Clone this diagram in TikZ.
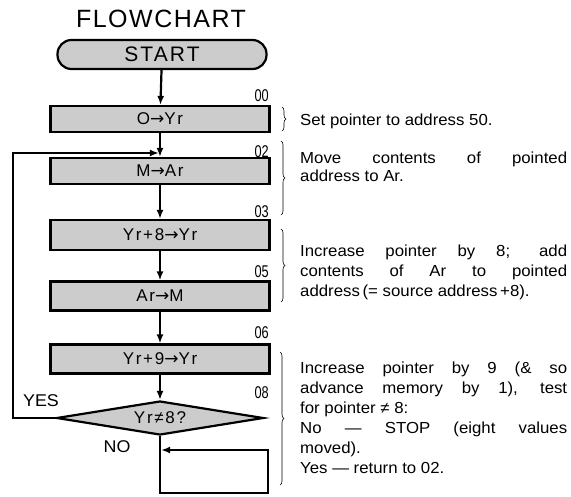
\documentclass[tikz,border=0pt]{standalone}
\usepackage{fontspec}
\setmainfont{Liberation Sans}[FakeStretch=1.05]
\newfontfamily\titlefont{Liberation Sans}[LetterSpace=6]
\newfontfamily\stepfont{Liberation Sans}[LetterSpace=10]
\newfontfamily\addrfont{Liberation Sans}[FakeStretch=0.75]
\newfontfamily\arrowfont{DejaVu Sans}
\newcommand{\goesto}{{\arrowfont →}}
\usepackage{tikz}
\usetikzlibrary{arrows.meta,shapes.geometric,decorations.pathreplacing}

\begin{document}
\begin{tikzpicture}[
x=1pt, y=-1pt,
stepbox/.style={draw, line width=2.2pt, fill=black!20, minimum width=219pt, minimum height=26pt, inner sep=0pt, font=\stepfont\fontsize{17}{19}\selectfont},
arrow/.style={-{Latex[length=9pt,width=7pt]}, line width=2.2pt},
addr/.style={anchor=east, inner sep=0pt, font=\addrfont\fontsize{17}{17}\selectfont},
sidebrace/.style={decorate, decoration={brace, amplitude=4pt}, line width=0.6pt},
desc/.style={anchor=north west, inner sep=0pt, text width=267pt, align=justify, font=\fontsize{16}{20}\selectfont},
tag/.style={inner sep=0pt, font=\fontsize{17}{17}\selectfont}
]
\useasboundingbox (0,0) rectangle (571,496);

% flowchart
\node[font=\titlefont\fontsize{25}{25}\selectfont] (title) at (161,19) {FLOWCHART};
\node[stepbox, rounded corners=14pt, minimum width=209pt, minimum height=29pt, font=\stepfont\fontsize{21}{21}\selectfont] (start) at (162,54.5) {START};
\node[stepbox] (b1) at (160,119) {O\goesto Yr};
\node[stepbox] (b2) at (160,171) {M\goesto Ar};
\node[stepbox, minimum height=30pt] (b3) at (160,235) {Yr+8\goesto Yr};
\node[stepbox, minimum height=29pt] (b4) at (160,296) {Ar\goesto M};
\node[stepbox, minimum height=29pt] (b5) at (160,359) {Yr+9\goesto Yr};
\node[stepbox, diamond, aspect=6, minimum width=207pt, minimum height=34pt] (test) at (160,418) {Yr≠8?};

% addresses
\node[addr] (a00) at (269,96) {00};
\node[addr] (a02) at (269,152) {02};
\node[addr] (a03) at (269,212) {03};
\node[addr] (a05) at (269,272) {05};
\node[addr] (a06) at (269,333) {06};
\node[addr] (a08) at (269,393) {08};

\draw[arrow] (start) -- (b1);
\draw[arrow] (b1) -- (b2);
\draw[arrow] (b2) -- (b3);
\draw[arrow] (b3) -- (b4);
\draw[arrow] (b4) -- (b5);
\draw[arrow] (b5) -- (test);

% YES loop back to 02
\coordinate (loopin) at (160,153);
\coordinate (loopout) at (13,153);
\draw[arrow] (test.west) -| (loopout) -- ([xshift=-1.1pt]loopin);
\node[tag] (yes) at (41,401) {YES};

% NO: stop
\coordinate (stopbr) at (268,493);
\coordinate (stoptr) at (268,450);
\draw[arrow] (test.south) |- (stopbr) |- ([xshift=1.1pt]test.south |- stoptr);
\node[tag] (no) at (117,447) {NO};

% notes
\draw[sidebrace] (282,107) -- (282,131);
\draw[sidebrace] (281,141) -- (281,215);
\draw[sidebrace] (281,229) -- (281,302);
\draw[sidebrace] (280,352) -- (280,485);

\node[desc] (d1) at (300,114) {Set pointer to address 50.};
\node[desc, font=\fontsize{16}{18}\selectfont] (d2) at (300,152) {Move contents of pointed\linebreak address to Ar.};
\node[desc] (d3) at (300,245) {Increase pointer by 8; add\linebreak contents of Ar to pointed\linebreak address\,(= source address\,+8).};
\node[desc] (d4) at (300,362) {Increase pointer by 9 (\& so\linebreak advance memory by 1), test\linebreak for pointer ≠ 8:\\ No --- STOP (eight values\linebreak moved).\\ Yes --- return to 02.};

\end{tikzpicture}
\end{document}
